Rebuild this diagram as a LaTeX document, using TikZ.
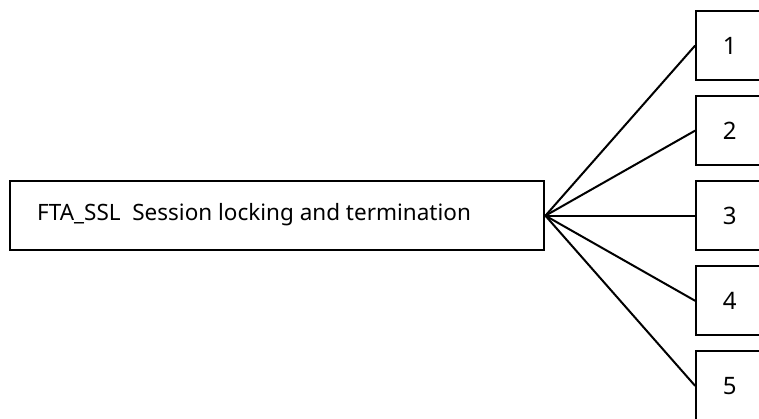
\documentclass[tikz,border=0pt]{standalone}
\usepackage{fontspec}
\setmainfont{Noto Sans}
\begin{document}
\begin{tikzpicture}[x=1pt,y=-1pt,
  box/.style={draw=black,line width=2.4pt,inner sep=0pt},
  conn/.style={draw=black,line width=2pt,line cap=round},
  lbl/.style={font=\fontsize{22.5}{26}\selectfont,inner sep=0pt,anchor=center}]
\useasboundingbox (0,0) rectangle (759,419);
% main box
\node[box,minimum width=534pt,minimum height=69pt,anchor=north west] (main) at (9,180) {};
\node[lbl,anchor=west] (maintext) at (37,215) {FTA\_SSL\ \ Session\ locking\ and\ termination};
% right boxes
\foreach \n/\t in {1/10,2/95,3/180,4/265,5/350}{
  \node[box,minimum width=64pt,minimum height=69pt,anchor=north west] (b\n) at (695,\t) {};
  \node[lbl,font=\fontsize{24}{28}\selectfont] (t\n) at ([xshift=1.5pt]b\n.center) {\n};
}
\foreach \n in {1,...,5}{
  \draw[conn] (main.east) -- (b\n.west);
}
\end{tikzpicture}
\end{document}
